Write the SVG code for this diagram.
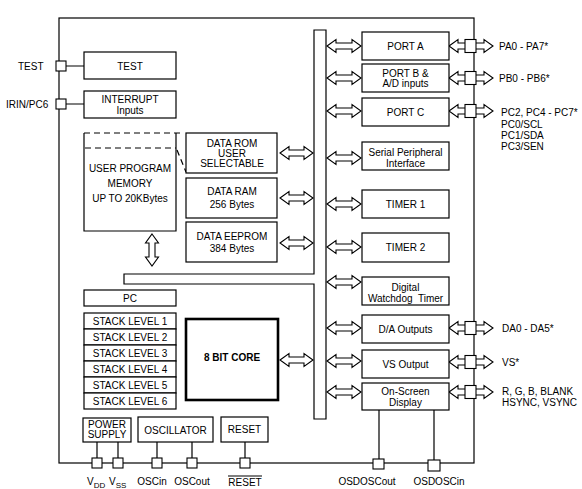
<svg xmlns="http://www.w3.org/2000/svg" width="582" height="489" viewBox="0 0 582 489">
<style>
.b{fill:#fff;stroke:#000;stroke-width:1.2}
.ln{fill:none;stroke:#000;stroke-width:1.2}
.d{fill:none;stroke:#000;stroke-width:1.2;stroke-dasharray:6,4}
.ar{fill:#fff;stroke:#000;stroke-width:1.1;stroke-linejoin:miter}
.pin{fill:#fff;stroke:#000;stroke-width:1.1}
text{font-family:"Liberation Sans",Arial,sans-serif;font-size:10px;fill:#000}
.c{text-anchor:middle}
</style>
<rect width="582" height="489" fill="#fff"/>
<rect x="59" y="18" width="415" height="445" class="ln"/>

<g id="connectors">
<path class="ln" d="M66,66H84M66,104H84M97,442V458M118,442V458M157,442V458M192,442V458M245,442V458M379,410V459M434,410V460"/>
<path class="d" d="M177,150L186,172"/>
<!-- bus to right boxes -->
<path class="ar" d="M327,46l9,-6.5v3.5h16v-3.5l9,6.5l-9,6.5v-3.5h-16v3.5z"/>
<path class="ar" d="M327,78l9,-6.5v3.5h16v-3.5l9,6.5l-9,6.5v-3.5h-16v3.5z"/>
<path class="ar" d="M327,111l9,-6.5v3.5h16v-3.5l9,6.5l-9,6.5v-3.5h-16v3.5z"/>
<path class="ar" d="M327,158l9,-6.5v3.5h16v-3.5l9,6.5l-9,6.5v-3.5h-16v3.5z"/>
<path class="ar" d="M327,204l9,-6.5v3.5h16v-3.5l9,6.5l-9,6.5v-3.5h-16v3.5z"/>
<path class="ar" d="M327,247l9,-6.5v3.5h16v-3.5l9,6.5l-9,6.5v-3.5h-16v3.5z"/>
<path class="ar" d="M327,282l9,-6.5v3.5h16v-3.5l9,6.5l-9,6.5v-3.5h-16v3.5z"/>
<path class="ar" d="M327,328l9,-6.5v3.5h16v-3.5l9,6.5l-9,6.5v-3.5h-16v3.5z"/>
<path class="ar" d="M327,361l9,-6.5v3.5h16v-3.5l9,6.5l-9,6.5v-3.5h-16v3.5z"/>
<path class="ar" d="M327,392l9,-6.5v3.5h16v-3.5l9,6.5l-9,6.5v-3.5h-16v3.5z"/>
<!-- left boxes to bus -->
<path class="ar" d="M280,153l9,-6.5v3.5h15v-3.5l9,6.5l-9,6.5v-3.5h-15v3.5z"/>
<path class="ar" d="M280,198l9,-6.5v3.5h15v-3.5l9,6.5l-9,6.5v-3.5h-15v3.5z"/>
<path class="ar" d="M280,243l9,-6.5v3.5h15v-3.5l9,6.5l-9,6.5v-3.5h-15v3.5z"/>
<path class="ar" d="M280,360l9,-6.5v3.5h15v-3.5l9,6.5l-9,6.5v-3.5h-15v3.5z"/>
<!-- memory vertical -->
<path class="ar" d="M152,234l6.5,9h-3.5v14h3.5l-6.5,9l-6.5,-9h3.5v-14h-3.5z"/>
<!-- right outputs -->
<path class="ar" d="M449,46l9,-6.5v3.5h26v-3.5l9,6.5l-9,6.5v-3.5h-26v3.5z"/>
<path class="ar" d="M449,78l9,-6.5v3.5h26v-3.5l9,6.5l-9,6.5v-3.5h-26v3.5z"/>
<path class="ar" d="M449,111l9,-6.5v3.5h26v-3.5l9,6.5l-9,6.5v-3.5h-26v3.5z"/>
<path class="ar" d="M449,328l9,-6.5v3.5h26v-3.5l9,6.5l-9,6.5v-3.5h-26v3.5z"/>
<path class="ar" d="M449,362l9,-6.5v3.5h26v-3.5l9,6.5l-9,6.5v-3.5h-26v3.5z"/>
<path class="ar" d="M449,392l9,-6.5v3.5h26v-3.5l9,6.5l-9,6.5v-3.5h-26v3.5z"/>
</g>

<g id="bus"><path class="b" d="M314,30H326V419H314V284H124V274H314Z"/></g>

<g id="test"><rect class="b" x="84" y="52" width="92" height="27"/><text class="c" x="130" y="69.5">TEST</text></g>
<g id="interrupt"><rect class="b" x="84" y="91" width="92" height="27"/><text class="c" x="130" y="102.5">INTERRUPT</text><text class="c" x="130" y="114">Inputs</text></g>

<g id="memory">
<path class="ln" d="M84,133V231H176V133"/>
<path class="d" d="M84,133H182M85,148H176"/>
<text class="c" x="130" y="171.5">USER PROGRAM</text><text class="c" x="130" y="186.5">MEMORY</text><text class="c" x="130" y="201.5">UP TO 20KBytes</text>
</g>
<g id="datarom"><rect class="b" x="186" y="133" width="91" height="40"/><text class="c" x="232" y="146.5">DATA ROM</text><text class="c" x="232" y="156.5">USER</text><text class="c" x="232" y="166.5">SELECTABLE</text></g>
<g id="dataram"><rect class="b" x="186" y="178" width="91" height="40"/><text class="c" x="232" y="194.5">DATA RAM</text><text class="c" x="232" y="207.5">256 Bytes</text></g>
<g id="eeprom"><rect class="b" x="186" y="222" width="91" height="40"/><text class="c" x="232" y="239.5">DATA EEPROM</text><text class="c" x="232" y="251.5">384 Bytes</text></g>

<g id="pc"><rect class="b" x="84" y="290" width="92" height="16"/><text class="c" x="130" y="301.5">PC</text></g>
<g id="stack">
<rect class="b" x="84" y="313" width="92" height="16"/><text class="c" x="130" y="324.5">STACK LEVEL 1</text>
<rect class="b" x="84" y="329" width="92" height="16"/><text class="c" x="130" y="340.5">STACK LEVEL 2</text>
<rect class="b" x="84" y="345" width="92" height="16"/><text class="c" x="130" y="356.5">STACK LEVEL 3</text>
<rect class="b" x="84" y="361" width="92" height="16"/><text class="c" x="130" y="372.5">STACK LEVEL 4</text>
<rect class="b" x="84" y="377" width="92" height="16"/><text class="c" x="130" y="388.5">STACK LEVEL 5</text>
<rect class="b" x="84" y="393" width="92" height="16"/><text class="c" x="130" y="404.5">STACK LEVEL 6</text>
</g>
<g id="core"><rect x="186" y="319" width="92" height="81" fill="#fff" stroke="#000" stroke-width="2.6"/><text class="c" x="232" y="360.5" font-weight="bold">8 BIT CORE</text></g>

<g id="porta"><rect class="b" x="362" y="32" width="87" height="28"/><text class="c" x="405.5" y="49.5">PORT A</text></g>
<g id="portb"><rect class="b" x="362" y="64" width="87" height="28"/><text class="c" x="405.5" y="76.5">PORT B &amp;</text><text class="c" x="405.5" y="87">A/D inputs</text></g>
<g id="portc"><rect class="b" x="362" y="98" width="87" height="28"/><text class="c" x="405.5" y="115.5">PORT C</text></g>
<g id="spi"><rect class="b" x="362" y="142" width="87" height="28"/><text class="c" x="405.5" y="155.5">Serial Peripheral</text><text class="c" x="405.5" y="166.5">Interface</text></g>
<g id="timer1"><rect class="b" x="362" y="190" width="87" height="28"/><text class="c" x="405.5" y="207.5">TIMER 1</text></g>
<g id="timer2"><rect class="b" x="362" y="233" width="87" height="29"/><text class="c" x="405.5" y="250.5">TIMER 2</text></g>
<g id="wdt"><rect class="b" x="362" y="277" width="87" height="28"/><text class="c" x="405.5" y="290.5">Digital</text><text class="c" x="405.5" y="301.5" style="white-space:pre">Watchdog  Timer</text></g>
<g id="da"><rect class="b" x="362" y="315" width="87" height="28"/><text class="c" x="405.5" y="332.5">D/A Outputs</text></g>
<g id="vs"><rect class="b" x="362" y="350" width="87" height="28"/><text class="c" x="405.5" y="367.5">VS Output</text></g>
<g id="osd"><rect class="b" x="362" y="383" width="87" height="27"/><text class="c" x="405.5" y="394.5">On-Screen</text><text class="c" x="405.5" y="405.5">Display</text></g>

<g id="power"><rect class="b" x="83" y="418" width="48" height="24"/><text class="c" x="107" y="427.5" font-size="8.5">POWER</text><text class="c" x="107" y="437.5" font-size="8.5">SUPPLY</text></g>
<g id="osc"><rect class="b" x="138" y="417" width="75" height="25"/><text class="c" x="175.5" y="433.5">OSCILLATOR</text></g>
<g id="reset"><rect class="b" x="221" y="417" width="47" height="25"/><text class="c" x="244.5" y="432.5">RESET</text></g>

<g id="pins">
<rect class="pin" x="56" y="61" width="10" height="10"/>
<rect class="pin" x="56" y="99" width="10" height="10"/>
<rect class="pin" x="465" y="39.5" width="11" height="13"/>
<rect class="pin" x="465" y="71.5" width="11" height="13"/>
<rect class="pin" x="465" y="104.5" width="11" height="13"/>
<rect class="pin" x="465" y="321.5" width="11" height="13"/>
<rect class="pin" x="465" y="355.5" width="11" height="13"/>
<rect class="pin" x="465" y="385.5" width="11" height="13"/>
<rect class="pin" x="92" y="458" width="10" height="10"/>
<rect class="pin" x="113" y="458" width="10" height="10"/>
<rect class="pin" x="152" y="458" width="10" height="10"/>
<rect class="pin" x="187" y="458" width="10" height="10"/>
<rect class="pin" x="240" y="458" width="10" height="10"/>
<rect class="pin" x="373" y="459" width="11" height="10"/>
<rect class="pin" x="428" y="460" width="12" height="11"/>
</g>

<g id="labels">
<text x="18" y="69.5">TEST</text>
<text x="6" y="107.5">IRIN/PC6</text>
<text x="499" y="49.5">PA0 - PA7*</text>
<text x="499" y="81.5">PB0 - PB6*</text>
<text x="501" y="116">PC2, PC4 - PC7*</text>
<text x="501" y="127.5">PC0/SCL</text>
<text x="501" y="138.5">PC1/SDA</text>
<text x="501" y="149.5">PC3/SEN</text>
<text x="502" y="331.5">DA0 - DA5*</text>
<text x="502" y="365.5">VS*</text>
<text x="502" y="394.5">R, G, B, BLANK</text>
<text x="502" y="405.5">HSYNC, VSYNC</text>
<text x="87" y="485">V<tspan font-size="8" dy="2.5">DD</tspan></text>
<text x="109" y="485">V<tspan font-size="8" dy="2.5">SS</tspan></text>
<text class="c" x="152" y="485">OSCin</text>
<text class="c" x="192" y="485">OSCout</text>
<text class="c" x="245" y="485.5">RESET</text>
<path class="ln" d="M228,476H262" stroke-width="1"/>
<text class="c" x="367" y="484.5">OSDOSCout</text>
<text class="c" x="439" y="484.5">OSDOSCin</text>
</g>
</svg>
